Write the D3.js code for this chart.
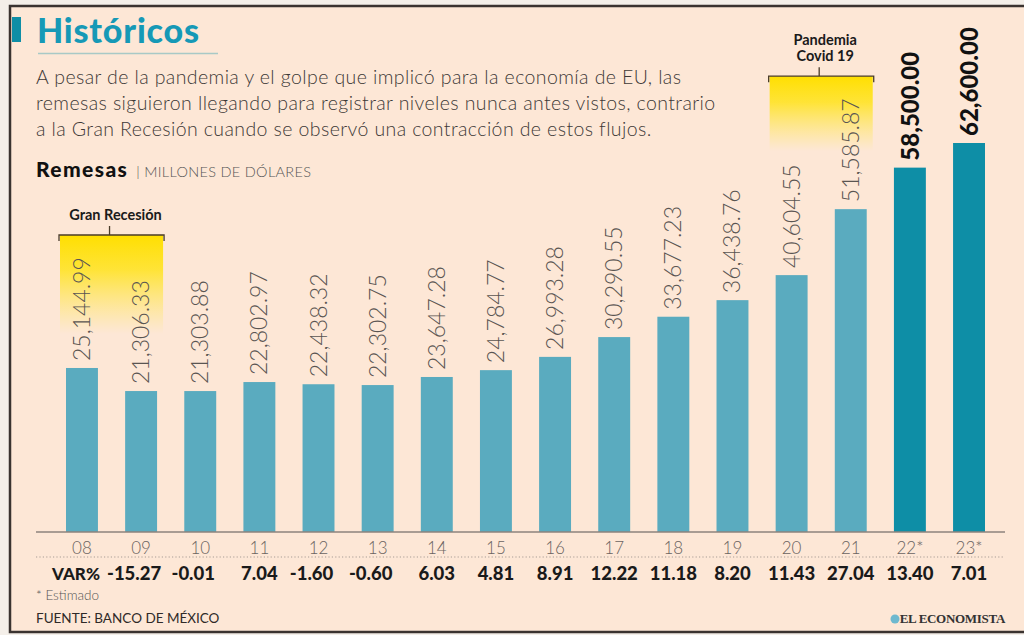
<!DOCTYPE html>
<html>
<head>
<meta charset="utf-8">
<script src="https://cdn.jsdelivr.net/npm/d3@7"></script>
<style>
  body { margin: 0; background: #f4efe9; }
  svg { display: block; font-family: Lato, "Open Sans", sans-serif; }
</style>
</head>
<body>
<div id="chart"></div>
<script>
const years = ['08', '09', '10', '11', '12', '13', '14', '15', '16', '17', '18', '19', '20', '21', '22*', '23*'],
	remesas = [25144.99, 21306.33, 21303.88, 22802.97, 22438.32, 22302.75, 23647.28, 24784.77, 26993.28, 30290.55, 33677.23, 36438.76, 40604.55, 51585.87, 58500.00, 62600.00],
	varPct = [null, -15.27, -0.01, 7.04, -1.60, -0.60, 6.03, 4.81, 8.91, 12.22, 11.18, 8.20, 11.43, 27.04, 13.40, 7.01],
	subtitle = [
		'A pesar de la pandemia y el golpe que implicó para la economía de EU, las',
		'remesas siguieron llegando para registrar niveles nunca antes vistos, contrario',
		'a la Gran Recesión cuando se observó una contracción de estos flujos.'
	],
	notes = [
		{lines: ['Gran Recesión'], from: '08', to: '09'},
		{lines: ['Pandemia', 'Covid 19'], from: '20', to: '21'}
	];

const W = 1024, H = 635;
const data = years.map((y, i) => ({year: y, value: remesas[i], pct: varPct[i], est: y.includes('*')}));

const svg = d3.select('#chart').append('svg')
	.attr('width', W)
	.attr('height', H);

// frame
svg.append('rect')
	.attr('x', 10).attr('y', 6)
	.attr('width', W + 20).attr('height', 626)
	.attr('fill', '#fde7d6')
	.attr('stroke', '#3a3330')
	.attr('stroke-width', 2.5);

const defs = svg.append('defs');
const grad = defs.append('linearGradient')
	.attr('id', 'yellow')
	.attr('x1', 0).attr('y1', 0).attr('x2', 0).attr('y2', 1);
grad.append('stop').attr('offset', '0%').attr('stop-color', '#ffdf00').attr('stop-opacity', 1);
grad.append('stop').attr('offset', '35%').attr('stop-color', '#ffe31a').attr('stop-opacity', 0.85);
grad.append('stop').attr('offset', '100%').attr('stop-color', '#ffe84d').attr('stop-opacity', 0);

// header
svg.append('rect')
	.attr('x', 12).attr('y', 17)
	.attr('width', 9).attr('height', 25)
	.attr('fill', '#0f8ea6');

svg.append('text')
	.attr('x', 37).attr('y', 43)
	.attr('font-size', 34)
	.attr('font-weight', 900)
	.attr('letter-spacing', 0.8)
	.attr('fill', '#1699b6')
	.text('Históricos');

svg.append('line')
	.attr('x1', 38).attr('x2', 218)
	.attr('y1', 53.5).attr('y2', 53.5)
	.attr('stroke', '#a9c9c6')
	.attr('stroke-width', 1.5);

svg.append('g').selectAll('text')
	.data(subtitle)
	.enter()
	.append('text')
		.attr('x', 36)
		.attr('y', (d, i) => 84 + i * 26)
		.attr('font-size', 19.5)
		.attr('font-weight', 300)
		.attr('letter-spacing', 0.4)
		.attr('fill', '#3d3936')
		.text(d => d);

const unit = svg.append('text')
	.attr('x', 36).attr('y', 177);
unit.append('tspan')
	.attr('font-size', 21)
	.attr('font-weight', 900)
	.attr('letter-spacing', 1.4)
	.attr('fill', '#111')
	.text('Remesas');
unit.append('tspan')
	.attr('font-size', 14.5)
	.attr('font-weight', 300)
	.attr('letter-spacing', 0.3)
	.attr('fill', '#555')
	.attr('dx', 8)
	.text('|  MILLONES DE DÓLARES');

// scales
const x = d3.scaleBand()
	.domain(years)
	.range([52.4, 998.6])
	.paddingInner(0.46)
	.paddingOuter(0.23);

const y = d3.scaleLinear()
	.domain([-2160, 62600])
	.range([532, 143]);

const base = y.range()[0];
const cx = d => x(d) + x.bandwidth() / 2;

// annotation boxes
const ann = svg.append('g');
notes.forEach(n => {
	const x0 = x(n.from) - 7,
		x1 = x(n.to) + x.bandwidth() + 7,
		top = y(d3.max(data.filter(d => d.year === n.from || d.year === n.to), d => d.value)) - 133,
		mid = (x0 + x1) / 2,
		h = n.lines.length > 1 ? 75 : 99;
	ann.append('rect')
		.attr('x', x0 + 1).attr('y', top)
		.attr('width', x1 - x0 - 2).attr('height', h)
		.attr('fill', 'url(#yellow)');
	ann.append('path')
		.attr('d', `M${x0},${top + 6}V${top}H${x1}V${top + 6}M${mid - 2},${top}V${top - 9}`)
		.attr('fill', 'none')
		.attr('stroke', '#4a3d2a')
		.attr('stroke-width', 1.3);
	n.lines.forEach((l, i, arr) => {
		ann.append('text')
			.attr('x', mid + 4)
			.attr('y', top - 15 - (arr.length - 1 - i) * 16)
			.attr('text-anchor', 'middle')
			.attr('font-size', 14.5)
			.attr('font-weight', 700)
			.attr('fill', '#1a1a1a')
			.text(l);
	});
});

// bars
svg.append('g').selectAll('rect')
	.data(data)
	.enter()
	.append('rect')
		.attr('x', d => x(d.year))
		.attr('y', d => y(d.value))
		.attr('width', x.bandwidth())
		.attr('height', d => base - y(d.value))
		.attr('fill', d => d.est ? '#0e8ea6' : '#5aabbf');

// value labels
const fmt = d3.format(',.2f');
svg.append('g').selectAll('text')
	.data(data)
	.enter()
	.append('text')
		.attr('transform', d => `translate(${cx(d.year) + (d.est ? 9 : 8)},${y(d.value) - 7}) rotate(-90)`)
		.attr('font-size', d => d.est ? 24 : 23)
		.attr('font-weight', d => d.est ? 900 : 300)
		.attr('fill', d => d.est ? '#111' : '#5a5552')
		.text(d => fmt(d.value));

// axis
const xAxis = d3.axisBottom(x).tickSize(0).tickPadding(10);
const axisG = svg.append('g')
	.attr('transform', `translate(0,${base})`)
	.call(xAxis);
axisG.select('.domain').remove();
axisG.selectAll('text')
	.attr('font-family', 'Lato, sans-serif')
	.attr('font-size', 17)
	.attr('font-weight', 300)
	.attr('fill', '#6a6360');

svg.append('line')
	.attr('x1', 36).attr('x2', 1005)
	.attr('y1', base).attr('y2', base)
	.attr('stroke', '#8d837c')
	.attr('stroke-width', 1.3);

svg.append('line')
	.attr('x1', 36).attr('x2', 1005)
	.attr('y1', 557).attr('y2', 557)
	.attr('stroke', '#a89d95')
	.attr('stroke-width', 1.2)
	.attr('stroke-dasharray', '1.2,2.2');

// VAR% row
svg.append('text')
	.attr('x', cx('08') - 6).attr('y', 580)
	.attr('text-anchor', 'middle')
	.attr('font-size', 17)
	.attr('font-weight', 900)
	.attr('fill', '#1a1a1a')
	.text('VAR%');

svg.append('g').selectAll('text')
	.data(data.filter(d => d.pct !== null))
	.enter()
	.append('text')
		.attr('x', d => cx(d.year) + (d.pct < 0 ? -7 : 0))
		.attr('y', 580)
		.attr('text-anchor', 'middle')
		.attr('font-size', 18.5)
		.attr('font-weight', 900)
		.attr('fill', '#1a1a1a')
		.text(d => d.pct.toFixed(2));

// footer
svg.append('text')
	.attr('x', 36).attr('y', 600)
	.attr('font-size', 13.5)
	.attr('font-weight', 300)
	.attr('fill', '#555')
	.text('* Estimado');

svg.append('text')
	.attr('x', 36).attr('y', 623)
	.attr('font-size', 13.5)
	.attr('font-weight', 400)
	.attr('fill', '#2f2a28')
	.text('FUENTE: BANCO DE MÉXICO');

svg.append('circle')
	.attr('cx', 895).attr('cy', 619)
	.attr('r', 4.5)
	.attr('fill', '#6fb9cf');

svg.append('text')
	.attr('x', 1005).attr('y', 623)
	.attr('text-anchor', 'end')
	.attr('font-family', '"Liberation Serif", "DejaVu Serif", serif')
	.attr('font-size', 13)
	.attr('font-weight', 700)
	.attr('letter-spacing', -0.3)
	.attr('fill', '#333')
	.text('EL ECONOMISTA');
</script>
</body>
</html>
